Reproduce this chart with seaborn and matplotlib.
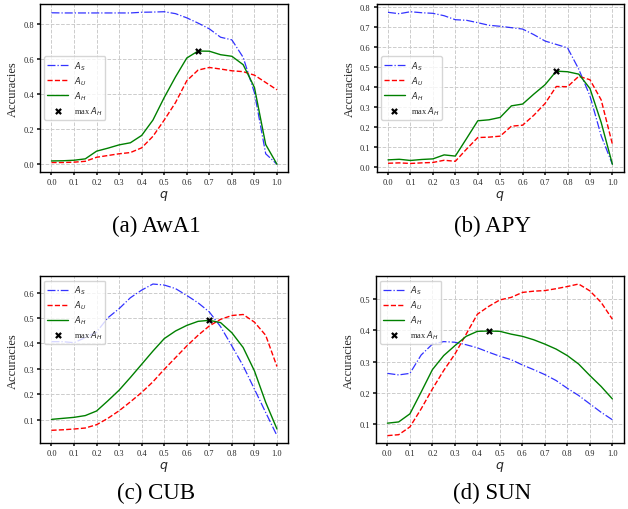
import numpy as np
import pandas as pd
import matplotlib
matplotlib.use("Agg")
import matplotlib.pyplot as plt
import seaborn as sns

# q values shared by every panel
q = [0.0, 0.05, 0.1, 0.15, 0.2, 0.25, 0.3, 0.35, 0.4, 0.45, 0.5,
     0.55, 0.6, 0.65, 0.7, 0.75, 0.8, 0.85, 0.9, 0.95, 1.0]

# (a) AwA1
awa1_s = [0.867, 0.866, 0.866, 0.866, 0.866, 0.866, 0.866, 0.866, 0.870, 0.871, 0.873,
          0.862, 0.838, 0.808, 0.775, 0.727, 0.712, 0.612, 0.41, 0.06, 0.0]
awa1_u = [0.010, 0.010, 0.012, 0.017, 0.040, 0.050, 0.060, 0.067, 0.094, 0.160, 0.253,
          0.353, 0.478, 0.539, 0.554, 0.545, 0.535, 0.530, 0.510, 0.468, 0.426]
awa1_h = [0.019, 0.020, 0.023, 0.031, 0.075, 0.092, 0.111, 0.123, 0.165, 0.253, 0.382,
          0.500, 0.608, 0.648, 0.647, 0.627, 0.618, 0.570, 0.440, 0.113, 0.0]

# (b) APY
apy_s = [0.775, 0.768, 0.778, 0.773, 0.770, 0.758, 0.738, 0.735, 0.723, 0.710, 0.705,
         0.698, 0.691, 0.663, 0.631, 0.614, 0.597, 0.490, 0.356, 0.156, 0.013]
apy_u = [0.018, 0.020, 0.017, 0.020, 0.022, 0.033, 0.028, 0.089, 0.147, 0.149, 0.154,
         0.204, 0.209, 0.259, 0.318, 0.403, 0.402, 0.454, 0.437, 0.336, 0.114]
apy_h = [0.035, 0.038, 0.032, 0.037, 0.040, 0.060, 0.054, 0.142, 0.231, 0.236, 0.248,
         0.306, 0.315, 0.365, 0.412, 0.480, 0.477, 0.465, 0.393, 0.223, 0.013]

# (c) CUB
cub_s = [0.407, 0.407, 0.403, 0.423, 0.445, 0.501, 0.537, 0.580, 0.610, 0.634, 0.630,
         0.616, 0.589, 0.560, 0.524, 0.466, 0.390, 0.312, 0.220, 0.128, 0.037]
cub_u = [0.058, 0.060, 0.063, 0.067, 0.080, 0.105, 0.135, 0.170, 0.207, 0.249, 0.298,
         0.344, 0.390, 0.432, 0.469, 0.495, 0.510, 0.514, 0.484, 0.432, 0.309]
cub_h = [0.101, 0.105, 0.109, 0.116, 0.134, 0.174, 0.216, 0.266, 0.318, 0.370, 0.419,
         0.449, 0.471, 0.487, 0.491, 0.482, 0.442, 0.384, 0.292, 0.168, 0.063]

# (d) SUN
sun_s = [0.262, 0.257, 0.262, 0.321, 0.356, 0.364, 0.362, 0.354, 0.344, 0.330, 0.317,
         0.306, 0.289, 0.274, 0.258, 0.239, 0.214, 0.191, 0.164, 0.137, 0.113]
sun_u = [0.062, 0.065, 0.090, 0.148, 0.212, 0.271, 0.324, 0.388, 0.452, 0.477, 0.498,
         0.506, 0.522, 0.526, 0.528, 0.534, 0.541, 0.549, 0.527, 0.490, 0.436]
sun_h = [0.102, 0.106, 0.132, 0.202, 0.274, 0.319, 0.351, 0.381, 0.397, 0.398, 0.397,
         0.388, 0.381, 0.370, 0.356, 0.340, 0.319, 0.292, 0.255, 0.220, 0.180]

captions = ['(a) AwA1', '(b) APY', '(c) CUB', '(d) SUN']
legend_locs = ['center left', 'center left', 'upper left', 'upper left']

sns.set_theme(style='whitegrid')
plt.rcParams['font.family'] = ['Liberation Serif', 'DejaVu Serif']
plt.rcParams['mathtext.fontset'] = 'dejavusans'
plt.rcParams['axes.edgecolor'] = 'black'
plt.rcParams['axes.linewidth'] = 1.0
plt.rcParams['grid.linestyle'] = '--'
plt.rcParams['grid.color'] = '#cccccc'
plt.rcParams['grid.linewidth'] = 0.7


def plot_panel(ax, seen, unseen, harmonic, loc):
    sns.lineplot(x=q, y=seen, ax=ax, color='blue', ls='-.', lw=0.9, alpha=0.8, label=r'$A_S$')
    sns.lineplot(x=q, y=unseen, ax=ax, color='red', ls='--', lw=1.0, label=r'$A_U$')
    sns.lineplot(x=q, y=harmonic, ax=ax, color='green', ls='-', lw=1.0, label=r'$A_H$')
    # mark the best harmonic mean
    i_best = int(np.argmax(harmonic))
    sns.scatterplot(x=[q[i_best]], y=[harmonic[i_best]], ax=ax, marker='x', color='black',
                    s=14, linewidth=1.6, zorder=5, label=r'max $A_H$')
    ax.set_xticks(np.arange(0, 1.01, 0.1))
    ax.set_xticklabels([f'{t:.1f}' for t in np.arange(0, 1.01, 0.1)])
    ax.tick_params(labelsize=6, length=2.5, pad=2, left=True, bottom=True)
    ax.set_xlabel(r'$q$', fontsize=9, labelpad=1)
    ax.set_ylabel('Accuracies', fontsize=9, labelpad=3)
    ax.legend(loc=loc, fontsize=6, frameon=True, handlelength=2.5, borderpad=0.35,
              labelspacing=0.3, handletextpad=0.7, facecolor='white', edgecolor='#cccccc')


fig = plt.figure(figsize=(6.28, 5.10), dpi=100)
positions = [[0.064, 0.661, 0.395, 0.329],
             [0.600, 0.661, 0.393, 0.329],
             [0.064, 0.129, 0.395, 0.327],
             [0.599, 0.129, 0.394, 0.327]]
caption_drop = [54, 54, 49, 49]
series = [(awa1_s, awa1_u, awa1_h), (apy_s, apy_u, apy_h),
          (cub_s, cub_u, cub_h), (sun_s, sun_u, sun_h)]

for pos, (s, u, h), cap, loc, drop in zip(positions, series, captions, legend_locs, caption_drop):
    ax = fig.add_axes(pos)
    plot_panel(ax, s, u, h, loc)
    cx = (pos[0] + pos[2] / 2) * 628 - 8
    cy = pos[1] * 510 - drop
    fig.text(cx / 628, cy / 510, cap, ha='center', va='center', fontsize=16.5, color='black')

fig.savefig('out.png', dpi=100)
